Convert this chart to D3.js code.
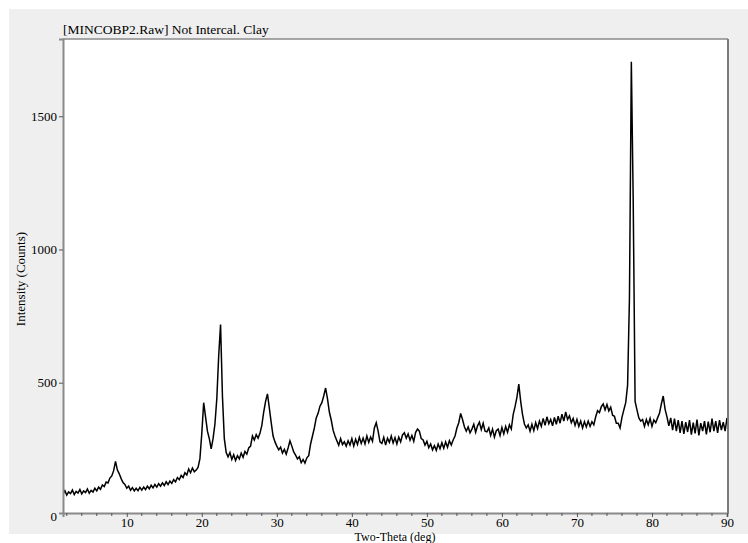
<!DOCTYPE html>
<html>
<head>
<meta charset="utf-8">
<script src="https://cdn.jsdelivr.net/npm/d3@7"></script>
<style>
  body { margin: 0; background: #fff; }
  svg { display: block; font-family: "Liberation Serif", "DejaVu Serif", serif; }
</style>
</head>
<body>
<svg id="chart" width="748" height="543"></svg>
<script>
// scan header, the way the .Raw file stores it
const scanStart = 1.5;
const scanStep = 0.25;

// counts, one row = 2 deg (8 steps)
const counts = [
  82, 95, 78, 90, 84, 97, 80, 92,
  86, 99, 83, 94, 88, 101, 85, 96,
  90, 104, 94, 108, 100, 116, 110, 127,
  124, 142, 150, 170, 205, 172, 158, 140,
  125, 118, 104, 112, 96, 106, 94, 104,
  95, 107, 97, 108, 99, 112, 102, 115,
  105, 118, 108, 121, 112, 124, 114, 128,
  118, 131, 122, 136, 128, 144, 136, 152,
  144, 162, 154, 176, 162, 180, 166, 172,
  182, 215, 310, 425, 372, 318, 290, 252,
  290, 345, 440, 600, 718, 450, 290, 238,
  222, 238, 212, 230, 208, 226, 214, 236,
  220, 242, 232, 255, 262, 300, 285, 305,
  292, 310, 340, 390, 430, 458, 405, 350,
  300, 278, 262, 248, 258, 236, 250, 232,
  255, 282, 262, 240, 228, 214, 222, 200,
  212, 198, 218, 226, 270, 300, 330, 368,
  385, 412, 425, 450, 480, 440, 390, 360,
  322, 300, 282, 265, 290, 268, 278, 262,
  282, 266, 290, 262, 288, 268, 295, 272,
  292, 270, 300, 276, 296, 280, 330, 350,
  318, 278, 272, 295, 266, 292, 276, 300,
  274, 294, 270, 296, 278, 304, 312, 292,
  308, 284, 302, 280, 314, 326, 318, 290,
  285, 266, 280, 256, 270, 248, 264, 246,
  270, 252, 275, 254, 278, 258, 282, 266,
  285, 300, 330, 350, 385, 362, 335, 318,
  334, 312, 326, 344, 314, 338, 352, 324,
  348, 318, 316, 330, 302, 326, 296, 320,
  326, 302, 332, 308, 336, 314, 342, 326,
  380, 410, 445, 495, 430, 380, 345, 330,
  342, 318, 344, 320, 350, 328, 356, 336,
  366, 340, 372, 346, 362, 338, 370, 344,
  374, 348, 382, 356, 390, 362, 376, 350,
  366, 340, 362, 336, 356, 330, 354, 334,
  356, 336, 354, 342, 372, 395, 388, 410,
  420, 398, 418, 394, 408, 378, 374, 348,
  348, 330, 370, 398, 425, 490, 820, 1705,
  1180, 430, 398, 368, 356, 362, 336, 362,
  342, 366, 336, 360, 350, 368, 385, 420,
  450, 400, 372, 338, 368, 322, 365, 318,
  360, 312, 356, 308, 352, 315, 360, 305,
  350, 310, 362, 302, 348, 318, 356, 306,
  354, 314, 365, 318, 356, 312, 360, 322,
  352, 318, 368
];

const xMajorTicks = [10, 20, 30, 40, 50, 60, 70, 80, 90];
const xMinorTicks = [2, 4, 6, 8, 12, 14, 16, 18, 22, 24, 26, 28, 32, 34, 36, 38, 42, 44, 46, 48,
                     52, 54, 56, 58, 62, 64, 66, 68, 72, 74, 76, 78, 82, 84, 86, 88];
const yTicks = [0, 500, 1000, 1500];

const titleText = '[MINCOBP2.Raw] Not Intercal. Clay';
const xLabel = 'Two-Theta (deg)';
const yLabel = 'Intensity (Counts)';

const plotLeft = 63, plotRight = 727, plotTop = 39, plotBottom = 513;

const svg = d3.select('#chart');

// grey panel behind the plot
svg.append('rect')
    .attr('x', 9).attr('y', 9)
    .attr('width', 739).attr('height', 525)
    .attr('fill', '#efefef');

svg.append('rect')
    .attr('x', plotLeft).attr('y', plotTop)
    .attr('width', plotRight - plotLeft).attr('height', plotBottom - plotTop)
    .attr('fill', '#fff');

const x = d3.scaleLinear().domain([1.5, 90]).range([plotLeft, plotRight]);
const y = d3.scaleLinear().domain([11, 1790]).range([plotBottom, plotTop]);

const scan = counts.map((c, i) => ({ t: scanStart + i * scanStep, c: c }));

svg.append('defs').append('clipPath').attr('id', 'plot-clip')
    .append('rect')
    .attr('x', plotLeft).attr('y', plotTop)
    .attr('width', plotRight - plotLeft).attr('height', plotBottom - plotTop);

svg.append('path')
    .datum(scan)
    .attr('clip-path', 'url(#plot-clip)')
    .attr('fill', 'none')
    .attr('stroke', '#000')
    .attr('stroke-width', 1.5)
    .attr('d', d3.line().x(d => x(d.t)).y(d => y(d.c)));

// frame: top and right thin grey, axes grey
svg.append('line')
    .attr('x1', plotLeft).attr('x2', plotRight + 1)
    .attr('y1', plotTop).attr('y2', plotTop)
    .attr('stroke', '#8a8a8a').attr('stroke-width', 1.5);
svg.append('line')
    .attr('x1', plotRight + 1).attr('x2', plotRight + 1)
    .attr('y1', plotTop).attr('y2', plotBottom + 1)
    .attr('stroke', '#7a7a7a').attr('stroke-width', 2);

// x axis
const xAxis = svg.append('g')
    .attr('transform', `translate(0,${plotBottom})`)
    .call(d3.axisBottom(x).tickValues(xMajorTicks).tickSize(4).tickPadding(1));
xAxis.selectAll('.tick text')
    .attr('font-family', '"Liberation Serif", serif')
    .attr('font-size', 13)
    .attr('fill', '#000');
xAxis.select('.domain').attr('stroke', '#8a8a8a').attr('stroke-width', 2);
xAxis.selectAll('.tick line').attr('stroke', '#555');

svg.append('g')
    .attr('transform', `translate(0,${plotBottom})`)
    .selectAll('line')
    .data(xMinorTicks)
    .enter()
    .append('line')
    .attr('x1', d => x(d)).attr('x2', d => x(d))
    .attr('y1', 0).attr('y2', 3)
    .attr('stroke', '#555');

// y axis
const yAxis = svg.append('g')
    .attr('transform', `translate(${plotLeft},0)`)
    .call(d3.axisLeft(y).tickValues(yTicks).tickFormat(d3.format('d')).tickSize(4).tickPadding(2));
yAxis.selectAll('.tick text')
    .attr('font-family', '"Liberation Serif", serif')
    .attr('font-size', 13)
    .attr('fill', '#000');
yAxis.select('.domain').attr('stroke', '#8a8a8a').attr('stroke-width', 2);
yAxis.selectAll('.tick line').attr('stroke', '#555');
yAxis.selectAll('.tick').filter(d => d === 0).select('line').remove();

// texts
svg.append('text')
    .attr('x', plotLeft).attr('y', 34)
    .attr('font-size', 13.5)
    .attr('fill', '#000')
    .text(titleText);

svg.append('text')
    .attr('x', (plotLeft + plotRight) / 2).attr('y', 541)
    .attr('text-anchor', 'middle')
    .attr('font-size', 12)
    .attr('fill', '#000')
    .text(xLabel);

svg.append('text')
    .attr('transform', 'translate(25,279) rotate(-90)')
    .attr('text-anchor', 'middle')
    .attr('font-size', 13)
    .attr('fill', '#000')
    .text(yLabel);
</script>
</body>
</html>
